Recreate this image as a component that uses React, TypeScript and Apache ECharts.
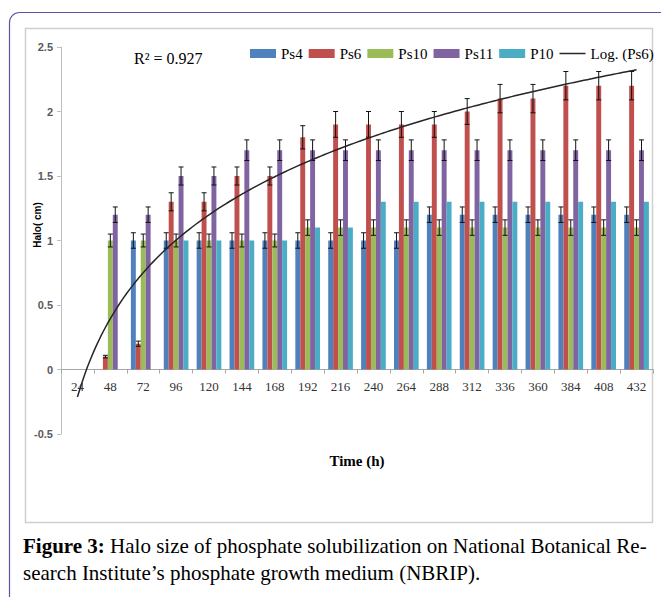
import React, { useEffect, useRef } from "react";
import * as echarts from "echarts";

const categories = ["24", "48", "72", "96", "120", "144", "168", "192", "216", "240", "264", "288", "312", "336", "360", "384", "408", "432"];
const seriesNames = ["Ps4", "Ps6", "Ps10", "Ps11", "P10"];
const ps4 = [0, 0, 1.0, 1.0, 1.0, 1.0, 1.0, 1.0, 1.0, 1.0, 1.0, 1.2, 1.2, 1.2, 1.2, 1.2, 1.2, 1.2];
const ps6 = [0, 0.1, 0.2, 1.3, 1.3, 1.5, 1.5, 1.8, 1.9, 1.9, 1.9, 1.9, 2.0, 2.1, 2.1, 2.2, 2.2, 2.2];
const ps10 = [0, 1.0, 1.0, 1.0, 1.0, 1.0, 1.0, 1.1, 1.1, 1.1, 1.1, 1.1, 1.1, 1.1, 1.1, 1.1, 1.1, 1.1];
const ps11 = [0, 1.2, 1.2, 1.5, 1.5, 1.7, 1.7, 1.7, 1.7, 1.7, 1.7, 1.7, 1.7, 1.7, 1.7, 1.7, 1.7, 1.7];
const p10 = [0, 0, 0, 1.0, 1.0, 1.0, 1.0, 1.1, 1.1, 1.3, 1.3, 1.3, 1.3, 1.3, 1.3, 1.3, 1.3, 1.3];

const ps4Err = [0, 0, 0.06, 0.06, 0.06, 0.06, 0.06, 0.06, 0.06, 0.06, 0.06, 0.06, 0.06, 0.06, 0.06, 0.06, 0.06, 0.06];
const ps6Err = [0, 0.01, 0.02, 0.07, 0.07, 0.07, 0.07, 0.09, 0.1, 0.1, 0.1, 0.1, 0.1, 0.11, 0.11, 0.11, 0.11, 0.11];
const ps10Err = [0, 0.05, 0.05, 0.05, 0.05, 0.05, 0.05, 0.06, 0.06, 0.06, 0.06, 0.06, 0.06, 0.06, 0.06, 0.06, 0.06, 0.06];
const ps11Err = [0, 0.06, 0.06, 0.07, 0.07, 0.08, 0.08, 0.08, 0.08, 0.08, 0.08, 0.08, 0.08, 0.08, 0.08, 0.08, 0.08, 0.08];
const p10Err = [0, 0, 0, 0, 0, 0, 0, 0, 0, 0, 0, 0, 0, 0, 0, 0, 0, 0];

const yTicks = { min: -0.5, max: 2.5, interval: 0.5 };
const colors = ["#4f81bd", "#c0504d", "#9bbb59", "#8064a2", "#4bacc6"];
const rSquaredLabel = "R² = 0.927";
const trendName = "Log. (Ps6)";

export default function App() {
  const ref = useRef<HTMLDivElement>(null);
  useEffect(() => {
    if (!ref.current) return;
    const chart = echarts.init(ref.current, null, { renderer: "svg" });
    const values = [ps4, ps6, ps10, ps11, p10];
    const errs = [ps4Err, ps6Err, ps10Err, ps11Err, p10Err];

    // Excel-style logarithmic trendline fitted to Ps6 (x = 1..n)
    const n = ps6.length;
    const lx = ps6.map((_, i) => Math.log(i + 1));
    const mx = lx.reduce((a, b) => a + b, 0) / n;
    const my = ps6.reduce((a, b) => a + b, 0) / n;
    let sxy = 0, sxx = 0;
    for (let i = 0; i < n; i++) {
      sxy += (lx[i] - mx) * (ps6[i] - my);
      sxx += (lx[i] - mx) * (lx[i] - mx);
    }
    const a = sxy / sxx;
    const b = my - a * mx;
    const trend: number[][] = [];
    for (let k = 0; k <= 170; k++) {
      const x = 1 + k * 0.1;
      trend.push([x, a * Math.log(x) + b]);
    }

    const errData: number[][] = [];
    values.forEach((arr, si) => {
      arr.forEach((v, ci) => {
        if (v > 0 && errs[si][ci] > 0) errData.push([ci, v, errs[si][ci], si]);
      });
    });

    const barSeries = seriesNames.map((name, i) => ({
      name,
      type: "bar",
      xAxisIndex: 0,
      yAxisIndex: 0,
      data: values[i],
      barGap: "0%",
      barCategoryGap: "25%",
      itemStyle: { color: colors[i] },
      z: 2,
    }));

    const gridPos = { left: 61, right: 8, top: 47, bottom: 163 };
    const plotH = 597 - gridPos.top - gridPos.bottom;
    const zeroOffset = -(plotH * (0 - yTicks.min)) / (yTicks.max - yTicks.min);

    chart.setOption({
      animation: false,
      backgroundColor: "#ffffff",
      grid: [
        { ...gridPos, containLabel: false },
        { ...gridPos, containLabel: false },
      ],
      legend: {
        left: 245,
        top: 41,
        itemWidth: 26,
        itemHeight: 9,
        itemGap: 6,
        textStyle: { fontFamily: "Liberation Serif", fontSize: 15, color: "#000" },
        data: [
          ...seriesNames.map((nm) => ({ name: nm, icon: "rect" })),
          { name: trendName, icon: "path://M0,0 H26 V1.5 H0 Z" },
        ],
      },
      xAxis: [
        {
          type: "category",
          gridIndex: 0,
          position: "bottom",
          offset: zeroOffset,
          data: categories,
          axisLine: { onZero: false, lineStyle: { color: "#a6a6a6", width: 1 } },
          axisTick: { show: true, length: 4, lineStyle: { color: "#a6a6a6" } },
          axisLabel: {
            margin: 10,
            fontFamily: "Liberation Serif",
            fontSize: 13,
            color: "#333",
            interval: 0,
          },
          splitLine: { show: false },
        },
        {
          type: "value",
          gridIndex: 1,
          min: 0.5,
          max: 18.5,
          show: false,
        },
      ],
      yAxis: [
        {
          type: "value",
          gridIndex: 0,
          min: yTicks.min,
          max: yTicks.max,
          interval: yTicks.interval,
          axisLine: { show: true, onZero: false, lineStyle: { color: "#bfbfbf" } },
          axisTick: { show: true, length: 4, lineStyle: { color: "#bfbfbf" } },
          axisLabel: {
            margin: 8,
            fontFamily: "Liberation Sans",
            fontSize: 11,
            fontWeight: "bold",
            color: "#595959",
          },
          splitLine: { show: false },
        },
        {
          type: "value",
          gridIndex: 1,
          min: yTicks.min,
          max: yTicks.max,
          interval: yTicks.interval,
          show: false,
        },
      ],
      series: [
        ...barSeries,
        {
          type: "custom",
          name: "errors",
          xAxisIndex: 0,
          yAxisIndex: 0,
          z: 3,
          encode: { x: 0, y: 1 },
          data: errData,
          renderItem: (params: any, api: any) => {
            const ci = api.value(0);
            const v = api.value(1);
            const e = api.value(2);
            const si = api.value(3);
            const band = api.size([1, 0])[0];
            const groupW = band * 0.75;
            const bw = groupW / 5;
            const cx = api.coord([ci, v])[0] - groupW / 2 + bw * (si + 0.5);
            const yTop = api.coord([ci, v + e])[1];
            const yBot = api.coord([ci, v - e])[1];
            const hw = 2.5;
            const st = { stroke: "#111", lineWidth: 1 };
            return {
              type: "group",
              children: [
                { type: "line", shape: { x1: cx, y1: yTop, x2: cx, y2: yBot }, style: st },
                { type: "line", shape: { x1: cx - hw, y1: yTop, x2: cx + hw, y2: yTop }, style: st },
                { type: "line", shape: { x1: cx - hw, y1: yBot, x2: cx + hw, y2: yBot }, style: st },
              ],
            };
          },
        },
        {
          type: "line",
          name: trendName,
          xAxisIndex: 1,
          yAxisIndex: 1,
          data: trend,
          symbol: "none",
          showSymbol: false,
          lineStyle: { color: "#262626", width: 1.5 },
          itemStyle: { color: "#262626" },
          z: 4,
        },
      ],
      graphic: [
        {
          type: "rect",
          z: -20,
          shape: { x: 9.5, y: 12.5, width: 700, height: 700, r: [10, 0, 0, 0] },
          style: { fill: "#fff", stroke: "#5d55a0", lineWidth: 1.2 },
        },
        {
          type: "rect",
          z: -10,
          shape: { x: 25.5, y: 28.5, width: 627, height: 494 },
          style: { fill: "#fff", stroke: "#cfcfcf", lineWidth: 1.5 },
        },
        {
          type: "text",
          x: 134,
          y: 58,
          style: {
            text: rSquaredLabel,
            fontFamily: "Liberation Serif",
            fontSize: 16,
            fill: "#000",
            verticalAlign: "middle",
          },
        },
        {
          type: "text",
          x: 37,
          y: 225,
          rotation: Math.PI / 2,
          style: {
            text: "Halo( cm)",
            fontFamily: "Liberation Sans",
            fontSize: 10,
            fontWeight: "bold",
            fill: "#000",
            align: "center",
            verticalAlign: "middle",
          },
        },
        {
          type: "text",
          x: 357,
          y: 461,
          style: {
            text: "Time (h)",
            fontFamily: "Liberation Serif",
            fontSize: 15,
            fontWeight: "bold",
            fill: "#000",
            align: "center",
            verticalAlign: "middle",
          },
        },
        {
          type: "text",
          x: 23,
          y: 546,
          style: {
            text: "{b|Figure 3:} Halo size of phosphate solubilization on National Botanical Re-",
            fontFamily: "Liberation Serif",
            fontSize: 21,
            fill: "#000",
            verticalAlign: "middle",
            rich: {
              b: { fontFamily: "Liberation Serif", fontSize: 21, fontWeight: "bold", fill: "#000" },
            },
          },
        },
        {
          type: "text",
          x: 23,
          y: 573,
          style: {
            text: "search Institute’s phosphate growth medium (NBRIP).",
            fontFamily: "Liberation Serif",
            fontSize: 21,
            fill: "#000",
            verticalAlign: "middle",
          },
        },
      ],
    });
    return () => chart.dispose();
  }, []);
  return (
    <div
      ref={ref}
      style={{ position: "fixed", left: 0, top: 0, width: 661, height: 597, background: "#fff" }}
    />
  );
}
